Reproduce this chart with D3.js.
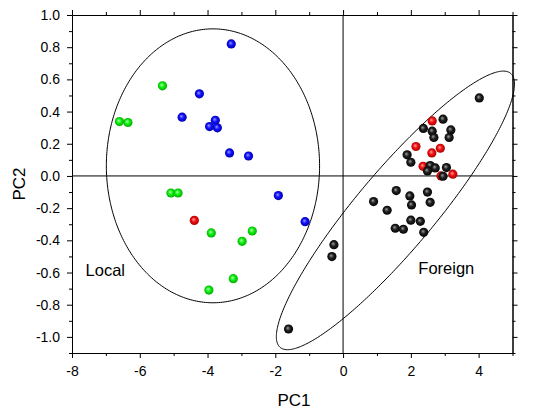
<!DOCTYPE html>
<html>
<head>
<meta charset="utf-8">
<script src="https://cdn.jsdelivr.net/npm/d3@7"></script>
<style>
  html, body { margin: 0; padding: 0; background: #fff; }
  svg { display: block; }
  text { font-family: Arial, "Liberation Sans", sans-serif; fill: #000; }
</style>
</head>
<body>
<svg id="chart" width="533" height="418"></svg>
<script>
// ---- data (PC1, PC2) ----
const bluePoints = [
  [-3.30, 0.82], [-4.24, 0.51], [-4.75, 0.365], [-3.77, 0.346], [-3.94, 0.307],
  [-3.71, 0.299], [-3.35, 0.143], [-2.79, 0.124], [-1.91, -0.122], [-1.12, -0.284]
];
const greenPoints = [
  [-5.33, 0.56], [-6.60, 0.338], [-6.35, 0.332], [-5.08, -0.106], [-4.87, -0.106],
  [-3.89, -0.354], [-2.68, -0.342], [-2.98, -0.406], [-3.24, -0.638], [-3.96, -0.709]
];
const redPoints = [
  [-4.39, -0.276],
  [2.63, 0.342], [2.15, 0.183], [2.87, 0.172], [2.62, 0.143], [2.36, 0.060],
  [2.89, 0.0], [3.24, 0.011]
];
const blackPoints = [
  [4.02, 0.485], [2.95, 0.353], [2.37, 0.295], [2.63, 0.278], [3.18, 0.286],
  [2.68, 0.239], [3.13, 0.239], [1.89, 0.131], [2.00, 0.085], [2.57, 0.065],
  [2.49, 0.031], [2.72, 0.050], [3.05, 0.052], [2.95, -0.002], [1.57, -0.091],
  [1.97, -0.124], [2.49, -0.10], [0.90, -0.159], [2.02, -0.180], [2.57, -0.164],
  [1.30, -0.213], [2.00, -0.275], [2.28, -0.282], [1.54, -0.325], [1.78, -0.331],
  [2.38, -0.35], [-0.27, -0.427], [-0.33, -0.501], [-1.61, -0.951]
];
// confidence ellipses: centre and covariance (data units)
const localEllipse = { cx: -3.84, cy: 0.063, sxx: 9.90, syy: 0.724, sxy: 0.0 };
const foreignEllipse = { cx: 1.545, cy: -0.214, sxx: 12.35, syy: 0.749, sxy: 2.757 };
const groupLabels = [
  { text: "Local", x: -7.6, y: -0.62 },
  { text: "Foreign", x: 2.22, y: -0.61 }
];
const xTicks = [-8, -6, -4, -2, 0, 2, 4];
const xMinorTicks = [-7, -5, -3, -1, 1, 3, 5];
const yTicks = [-1.0, -0.8, -0.6, -0.4, -0.2, 0.0, 0.2, 0.4, 0.6, 0.8, 1.0];
const yMinorTicks = [-1.1, -0.9, -0.7, -0.5, -0.3, -0.1, 0.1, 0.3, 0.5, 0.7, 0.9];
const xDomain = [-8, 5];
const yDomain = [-1.1, 1.0];

// ---- layout ----
const svg = d3.select("#chart");
const mLeft = 72, mTop = 15, W = 440.5, H = 338;
const x = d3.scaleLinear().domain(xDomain).range([mLeft, mLeft + W]);
const y = d3.scaleLinear().domain(yDomain).range([mTop + H, mTop]);

// gradients for shaded balls
const defs = svg.append("defs");
function ballGradient(id, light, base, dark) {
  const g = defs.append("radialGradient").attr("id", id)
    .attr("cx", "50%").attr("cy", "50%").attr("r", "55%")
    .attr("fx", "40%").attr("fy", "38%");
  g.append("stop").attr("offset", "0%").attr("stop-color", light);
  g.append("stop").attr("offset", "45%").attr("stop-color", base);
  g.append("stop").attr("offset", "100%").attr("stop-color", dark);
}
ballGradient("gBlue", "#9a9aff", "#1010ff", "#0000a0");
ballGradient("gGreen", "#b0ffb0", "#10f010", "#00a000");
ballGradient("gRed", "#ffa0a0", "#f01010", "#a00000");
ballGradient("gBlack", "#a0a0a0", "#202020", "#000000");

// axes
const axG = svg.append("g");
function styleAxis(g) {
  g.select(".domain").attr("stroke", "#000").attr("stroke-width", 1);
  g.selectAll(".tick line").attr("stroke", "#000").attr("stroke-width", 1);
  g.selectAll(".tick text").style("font-size", "14px")
    .style("font-family", 'Arial, "Liberation Sans", sans-serif').attr("fill", "#000");
}
// bottom
axG.append("g").attr("transform", `translate(0,${mTop + H})`)
  .call(d3.axisBottom(x).tickValues(xMinorTicks).tickSize(3).tickSizeOuter(0).tickFormat(""))
  .call(styleAxis);
axG.append("g").attr("transform", `translate(0,${mTop + H})`)
  .call(d3.axisBottom(x).tickValues(xTicks).tickSize(5).tickSizeOuter(0).tickPadding(8)
    .tickFormat(d => String(d)))
  .call(styleAxis);
// top
axG.append("g").attr("transform", `translate(0,${mTop})`)
  .call(d3.axisTop(x).tickValues(xMinorTicks).tickSize(3).tickSizeOuter(0).tickFormat(""))
  .call(styleAxis);
axG.append("g").attr("transform", `translate(0,${mTop})`)
  .call(d3.axisTop(x).tickValues(xTicks).tickSize(5).tickSizeOuter(0).tickFormat(""))
  .call(styleAxis);
// left
axG.append("g").attr("transform", `translate(${mLeft},0)`)
  .call(d3.axisLeft(y).tickValues(yMinorTicks).tickSize(3).tickSizeOuter(0).tickFormat(""))
  .call(styleAxis);
axG.append("g").attr("transform", `translate(${mLeft},0)`)
  .call(d3.axisLeft(y).tickValues(yTicks).tickSize(5).tickSizeOuter(0).tickPadding(7)
    .tickFormat(d => d.toFixed(1)))
  .call(styleAxis);
// right
axG.append("g").attr("transform", `translate(${mLeft + W},0)`)
  .call(d3.axisRight(y).tickValues(yMinorTicks).tickSize(3).tickSizeOuter(0).tickFormat(""))
  .call(styleAxis);
axG.append("g").attr("transform", `translate(${mLeft + W},0)`)
  .call(d3.axisRight(y).tickValues(yTicks).tickSize(5).tickSizeOuter(0).tickFormat(""))
  .call(styleAxis);

// zero lines
svg.append("line").attr("x1", x(0)).attr("x2", x(0)).attr("y1", y(yDomain[0])).attr("y2", y(yDomain[1]))
  .attr("stroke", "#000").attr("stroke-width", 1);
svg.append("line").attr("x1", x(xDomain[0])).attr("x2", x(xDomain[1])).attr("y1", y(0)).attr("y2", y(0))
  .attr("stroke", "#000").attr("stroke-width", 1);

// ellipses
function ellipsePoints(e) {
  const l11 = Math.sqrt(e.sxx), l21 = e.sxy / l11, l22 = Math.sqrt(e.syy - l21 * l21);
  return d3.range(0, 361).map(i => {
    const t = i * Math.PI / 180, c = Math.cos(t), s = Math.sin(t);
    return [e.cx + l11 * c, e.cy + l21 * c + l22 * s];
  });
}
const line = d3.line().x(d => x(d[0])).y(d => y(d[1]));
[localEllipse, foreignEllipse].forEach(e => {
  svg.append("path").attr("d", line(ellipsePoints(e)) + "Z")
    .attr("fill", "none").attr("stroke", "#000").attr("stroke-width", 1);
});

// points
function drawPoints(data, grad) {
  svg.append("g").selectAll("circle").data(data).join("circle")
    .attr("cx", d => x(d[0])).attr("cy", d => y(d[1])).attr("r", 4.6)
    .attr("fill", `url(#${grad})`);
}
drawPoints(greenPoints, "gGreen");
drawPoints(bluePoints, "gBlue");
drawPoints(redPoints, "gRed");
drawPoints(blackPoints, "gBlack");

// group labels
svg.append("g").selectAll("text").data(groupLabels).join("text")
  .attr("x", d => x(d.x)).attr("y", d => y(d.y))
  .style("font-size", "16.5px").text(d => d.text);

// axis titles
svg.append("text").attr("x", x(-1.45)).attr("y", 406).attr("text-anchor", "middle")
  .style("font-size", "17px").text("PC1");
svg.append("text").attr("transform", `translate(25,${y(-0.05)}) rotate(-90)`)
  .attr("text-anchor", "middle").style("font-size", "17px").text("PC2");
</script>
</body>
</html>
